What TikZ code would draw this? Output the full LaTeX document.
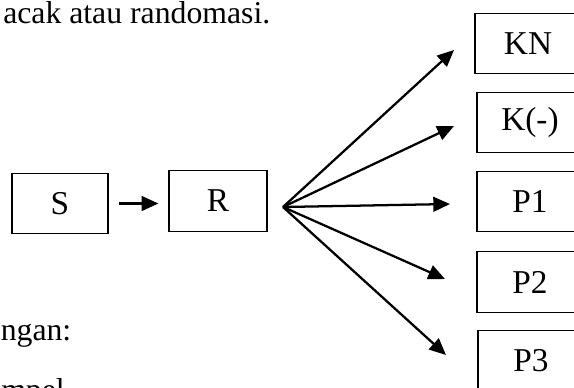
\documentclass[tikz,border=0pt]{standalone}
\usepackage{fontspec}
\setmainfont{Liberation Serif}
\usetikzlibrary{arrows.meta}
\begin{document}
\begin{tikzpicture}[x=0.75pt,y=-0.75pt,
  box/.style={draw, line width=0.9pt, minimum width=72pt, minimum height=45.5pt, inner sep=0pt, font=\fontsize{25}{30}\selectfont},
  txt/.style={inner sep=0pt, font=\fontsize{23.8}{28}\selectfont},
  arr/.style={line width=1.7pt, -{Triangle[length=12.5pt,width=11pt]}}]
\useasboundingbox (0,0) rectangle (574,387);
\node[txt, anchor=base west] (t1) at (3,23) {acak atau randomasi.};
\node[txt, anchor=base west] (t2) at (0.5,340) {ngan:};
\node[txt, anchor=base west] (t3) at (1,400) {mpel};
\node[box] (S) at (60,203.5) {S};
\node[box, minimum width=73.5pt] (R) at (218,201) {R};
\node[box, minimum width=79.5pt] (KN) at (528,43.5) {KN};
\node[box, minimum width=79.5pt] (KM) at (530,122.5) {K(-)};
\node[box, minimum width=79.5pt] (P1) at (530,201.5) {P1};
\node[box, minimum width=79.5pt] (P2) at (530,282) {P2};
\node[box, minimum width=79.5pt] (P3) at (531,361) {P3};
\coordinate (O) at (283,207);
\coordinate (aKN) at (454,50);
\coordinate (aKM) at (454,126);
\coordinate (aP1) at (450,204);
\coordinate (aP2) at (445,279);
\coordinate (aP3) at (446,355);
\draw[arr, shorten <=8pt, shorten >=7.5pt] (S.east) -- (S.east -| R.west);
\draw[arr] (O) -- (aKN);
\draw[arr] (O) -- (aKM);
\draw[arr] (O) -- (aP1);
\draw[arr] (O) -- (aP2);
\draw[arr] (O) -- (aP3);
\end{tikzpicture}
\end{document}
